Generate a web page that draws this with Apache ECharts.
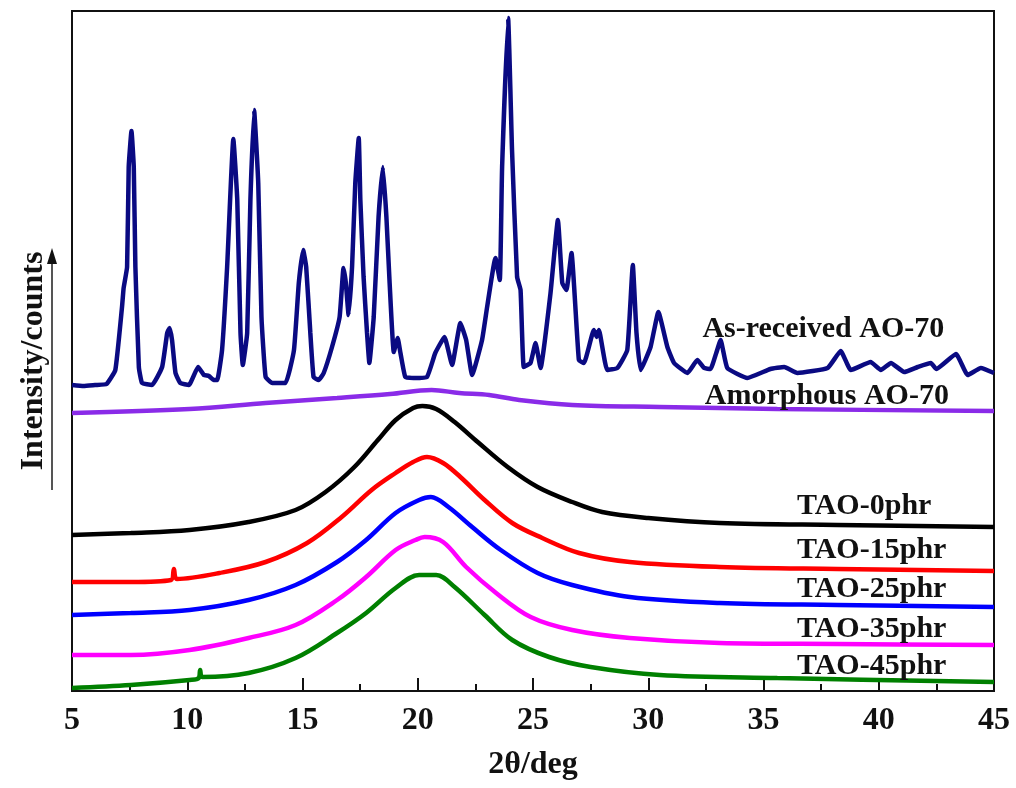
<!DOCTYPE html>
<html>
<head>
<meta charset="utf-8">
<script src="https://cdn.jsdelivr.net/npm/echarts@6/dist/echarts.min.js"></script>
<style>
html,body{margin:0;padding:0;background:#fff;}
#chart{width:1016px;height:788px;}
</style>
</head>
<body>
<div id="chart"></div>
<script>
// ---- data (2θ in deg, intensity in arbitrary stacked units) ----
const asReceived = [
[5,306],[5.5,305],[6,306],[6.5,307],[6.88,321],[7.17,384],[7.24,403],[7.39,424],[7.46,524],[7.58,560],[7.68,524],[7.75,424],[7.9,324],[8.04,308],[8.47,306],
[8.91,324],[9.13,358],[9.23,363],[9.34,351],[9.49,318],[9.7,308],[10.07,306],[10.47,324],[10.72,316],[10.94,315],[11.15,311],[11.3,311],
[11.51,341],[11.73,424],[12.0,552],[12.17,491],[12.31,358],[12.41,326],[12.6,358],[12.74,491],[12.9,581],[13.08,508],[13.22,374],[13.4,314],[13.69,308],[14.26,308],
[14.63,341],[14.84,408],[15.03,441],[15.16,424],[15.34,358],[15.48,314],[15.7,311],[15.92,318],[16.28,344],[16.61,374],[16.78,423],[16.88,408],[17.0,376],
[17.15,424],[17.29,508],[17.44,553],[17.51,491],[17.65,414],[17.8,358],[17.9,328],[18.09,374],[18.3,474],[18.49,524],[18.64,474],[18.78,408],[18.96,339],
[19.13,353],[19.25,338],[19.46,314],[19.82,313],[20.4,314],[20.76,338],[21.16,354],[21.49,326],[21.85,368],[22.1,351],[22.36,316],[22.79,351],[23.01,384],
[23.37,433],[23.56,411],[23.66,524],[23.92,673],[24.09,541],[24.31,414],[24.46,401],[24.6,324],[24.89,328],[25.11,348],[25.33,323],[25.76,398],[26.08,471],
[26.27,408],[26.45,401],[26.67,438],[26.99,331],[27.21,328],[27.64,361],[27.76,354],[27.86,361],[28.22,321],[28.66,323],[29.09,341],[29.33,426],[29.49,358],
[29.67,321],[30.1,344],[30.44,379],[30.83,344],[31.12,328],[31.7,318],[32.13,331],[32.42,323],[32.7,322],[32.95,338],[33.14,351],[33.43,323],[34.3,313],
[35.3,322],[35.9,324],[36.47,318],[37.78,323],[38.35,340],[38.79,321],[39.65,329],[40.09,321],[40.53,328],[41.1,319],[41.69,324],[42.26,328],[42.5,322],
[43.35,337],[43.86,316],[44.43,323],[45,318]
];
const amorphous = [[5,278],[10.1,282],[13.4,288],[16.5,293],[18.8,297],[20.6,301],[21.8,298],[23.1,296],[24.4,291],[26.7,286],[30.5,284],[35.6,282],[45,280]];
const tao0  = [[5,156],[7.55,158],[10.1,161],[12.66,169],[14.7,181],[16.0,199],[17.25,224],[18.27,251],[19.04,271],[19.8,283],[20.2,285],[20.8,282],[21.6,269],[22.6,249],[23.9,224],[25.2,204],[26.7,189],[28.0,179],[30.0,173],[33.1,168],[38.2,166],[45,164]];
const tao15 = [[5,109],[7.55,109],[9.3,111],[9.42,122],[9.55,112],[11.4,118],[13.4,129],[15.2,148],[16.7,174],[18.0,201],[19.04,218],[19.8,229],[20.4,234],[21.1,228],[21.85,214],[22.9,191],[24.1,168],[25.4,153],[27.0,138],[29.2,129],[33.1,124],[38.2,122],[45,120]];
const tao25 = [[5,76],[7.55,78],[10.1,81],[12.66,91],[14.7,106],[16.5,129],[17.76,151],[19.04,178],[20.06,191],[20.57,194],[21.33,184],[22.36,164],[23.6,141],[25.2,118],[26.7,106],[29.2,94],[33.1,88],[38.2,86],[45,84]];
const tao35 = [[5,36],[7.55,36],[10.1,41],[12.66,53],[14.7,66],[16.5,91],[17.76,114],[19.04,141],[19.9,151],[20.3,154],[21.1,149],[22.1,124],[23.4,98],[24.9,74],[26.7,61],[29.2,53],[33.1,48],[38.2,47],[45,46]];
const tao45 = [[5,3],[7.55,6],[10.1,11],[10.5,13],[10.56,21],[10.65,14],[12.66,18],[14.7,33],[16.5,58],[17.76,78],[19.04,103],[20.06,116],[20.8,116],[21.6,104],[22.9,76],[24.1,51],[25.7,34],[27.5,24],[30.5,16],[35.6,13],[45,9]];

const seriesNames  = ['As-received AO-70','Amorphous AO-70','TAO-0phr','TAO-15phr','TAO-25phr','TAO-35phr','TAO-45phr'];
const seriesColors = ['#0a0a82','#8a2be8','#000000','#ff0000','#0000ff','#ff00ff','#008000'];
const seriesData   = [asReceived, amorphous, tao0, tao15, tao25, tao35, tao45];
// label anchor (left edge x in deg, centre y in data units)
const labelX = [32.35, 32.45, 36.45, 36.45, 36.45, 36.45, 36.45];
const labelY = [365, 298, 188, 144, 105, 65, 28];

const xTicks = {min:5, max:45, interval:5};

const chart = echarts.init(document.getElementById('chart'), null, {renderer:'canvas'});
const FONT = '"Liberation Serif","Times New Roman",serif';

const series = seriesData.map((d,i)=>({
  name: seriesNames[i],
  type:'line',
  data:d,
  showSymbol:false,
  smooth: i===0 ? 0.12 : 0.35,
  lineStyle:{color:seriesColors[i], width:4.5},
  z: 10 - i,
  silent:true
}));

chart.setOption({
  animation:false,
  backgroundColor:'#fff',
  grid:{left:72,right:22,top:11,bottom:97,show:true,borderColor:'#111',borderWidth:2,backgroundColor:'transparent'},
  xAxis:{
    type:'value', min:xTicks.min, max:xTicks.max, interval:xTicks.interval,
    axisLine:{lineStyle:{color:'#111',width:2}},
    axisTick:{inside:true,length:13,lineStyle:{color:'#111',width:2}},
    minorTick:{show:true,splitNumber:2,length:7,lineStyle:{color:'#111',width:2}},
    splitLine:{show:false},
    axisLabel:{color:'#111',fontFamily:FONT,fontWeight:'bold',fontSize:32,margin:14},
    name:'2θ/deg', nameLocation:'middle', nameGap:58,
    nameTextStyle:{color:'#111',fontFamily:FONT,fontWeight:'bold',fontSize:32}
  },
  yAxis:{
    type:'value', min:0, max:680,
    axisLine:{show:true,lineStyle:{color:'#111',width:2}},
    axisTick:{show:false}, axisLabel:{show:false}, splitLine:{show:false},
    name:'Intensity/counts', nameLocation:'middle', nameGap:22, nameRotate:90,
    nameTextStyle:{color:'#111',fontFamily:FONT,fontWeight:'bold',fontSize:32,padding:[0,0,0,-20]}
  },
  series: series
});

// text labels anchored via the axes
const labels = seriesNames.map((n,i)=>{
  const p = chart.convertToPixel({gridIndex:0},[labelX[i],labelY[i]]);
  return {type:'text', left:p[0], top:p[1]-12, z:100,
    style:{text:n, fill:'#111', font:'bold 30px '+FONT}};
});
// arrow beside the y-axis title
labels.push({type:'line', shape:{x1:52,y1:490,x2:52,y2:262}, style:{stroke:'#555',lineWidth:2}, z:100});
labels.push({type:'polygon', shape:{points:[[52,248],[47,264],[57,264]]}, style:{fill:'#111'}, z:100});
chart.setOption({graphic:labels});
</script>
</body>
</html>
